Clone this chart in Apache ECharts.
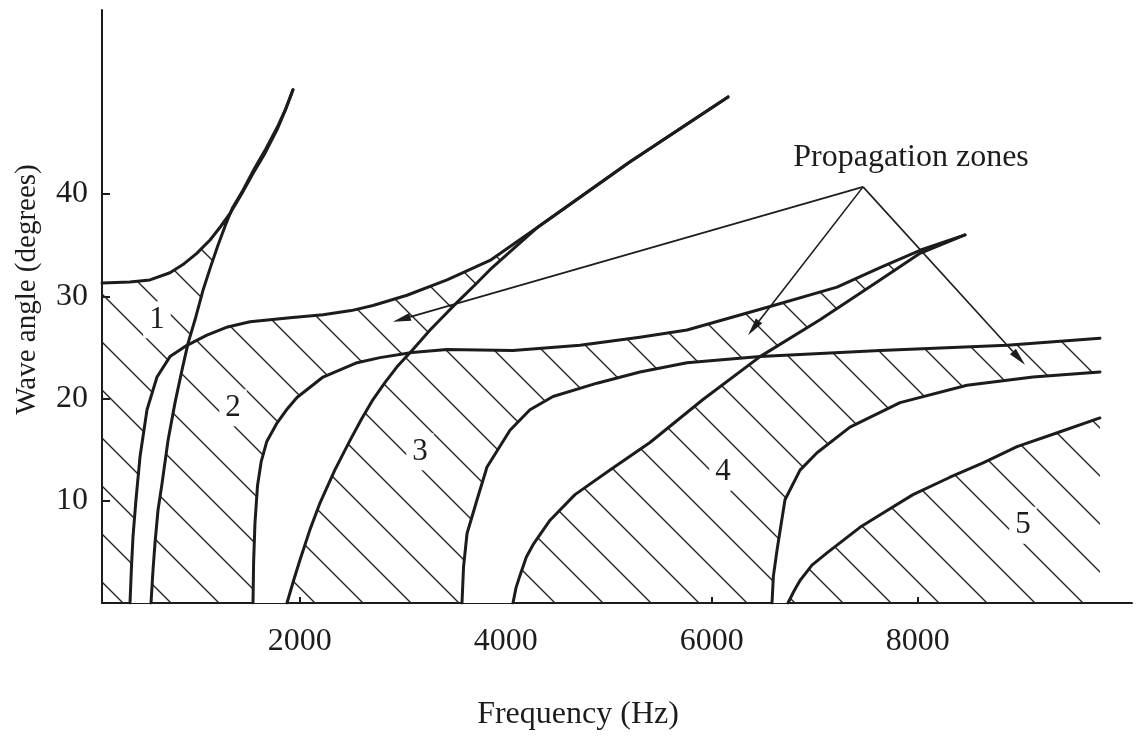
<!DOCTYPE html>
<html><head><meta charset="utf-8">
<script src="https://cdn.jsdelivr.net/npm/echarts@6/dist/echarts.min.js"></script>
<style>html,body{margin:0;padding:0;background:#fff}#c{width:1138px;height:740px}</style>
</head><body><div id="c"></div>
<script>
// ---- axis ticks ----
const xTicks = [2000, 4000, 6000, 8000];
const yTicks = [10, 20, 30, 40];

// ---- curves: [frequency Hz, wave angle deg] ----
const curveL0 = [[80,31.3],[350,31.4],[546,31.6],[740,32.3],[866,33.1],[1000,34.2],[1129,35.5],[1230,36.8],[1323,38.1],[1430,39.9],[1546,42.0],[1663,44.0],[1780,46.3],[1860,48.2],[1934,50.2]];
const curveS1 = [[556,0],[575,3.2],[595,5.9],[624,9.1],[663,11.7],[721,15.9],[789,19.6],[857,22.8],[915,25.4],[983,27.7],[1061,30.6],[1135,32.9],[1206,35.0],[1280,37.0],[1345,38.6],[1450,40.4],[1560,42.5],[1670,44.4],[1785,46.6],[1862,48.3],[1934,50.2]];
const curveL1 = [[352,0],[366,3.5],[381,6.5],[410,10.1],[449,14.3],[517,18.9],[614,22.1],[740,24.1],[905,25.2],[1099,26.2],[1300,27.0],[1517,27.5],[1905,27.9],[2226,28.2],[2500,28.6],[2711,29.1],[3041,30.1],[3430,31.6],[3847,33.5],[4303,36.7],[5200,43.1],[6158,49.5]];
const curveS2 = [[1876,0],[1940,2.2],[2002,4.2],[2100,7.2],[2197,9.8],[2340,13.0],[2488,15.9],[2600,18.0],[2711,19.9],[2830,21.6],[2944,23.1],[3090,24.7],[3265,26.7],[3400,28.1],[3527,29.4],[3700,31.1],[3847,32.6],[4070,34.6],[4303,36.7],[5200,43.1],[6158,49.5]];
const curveL2 = [[1546,0],[1552,4.0],[1565,7.8],[1590,11.5],[1625,13.8],[1680,15.8],[1779,17.6],[1880,19.0],[1973,20.1],[2226,22.1],[2556,23.5],[2779,24.0],[3090,24.5],[3430,24.8],[4070,24.7],[4721,25.2],[5303,26.0],[5760,26.7],[6566,29.0],[7216,30.9],[7634,32.8],[8022,34.5],[8459,36.0]];
const curveS3 = [[4070,0],[4100,1.5],[4138,2.7],[4200,4.5],[4265,5.7],[4430,8.1],[4672,10.6],[5012,13.0],[5400,15.7],[5915,19.9],[6469,24.1],[7051,27.7],[7634,31.6],[8022,34.2],[8459,36.0]];
const curveL3 = [[3575,0],[3590,3.5],[3624,6.8],[3721,10.1],[3818,13.3],[4041,16.9],[4235,18.9],[4459,20.2],[4886,21.5],[5303,22.6],[5760,23.5],[6469,24.1],[7634,24.7],[8867,25.2],[9769,25.9]];
const curveL4 = [[6585,0],[6598,2.6],[6634,5.2],[6711,10.1],[6857,13.0],[7022,14.7],[7342,17.2],[7828,19.6],[8478,21.3],[9119,22.1],[9769,22.6]];
const curveS4 = [[6740,0],[6800,1.2],[6857,2.2],[6973,3.7],[7119,4.9],[7439,7.4],[7663,8.8],[7954,10.6],[8313,12.3],[8634,13.7],[8964,15.3],[9369,16.7],[9769,18.1]];

// ---- annotations ----
const zoneLabels = ['1', '2', '3', '4', '5'];
const zoneLabelPos = [[614,27.7],[1352,19.1],[3168,14.8],[6109,12.8],[9022,7.6]];
const annotationText = 'Propagation zones';
const annotationPos = [7935, 43.6];
const arrowApex = [7469, 40.7];
const arrowTips = [[2905,27.5],[6352,26.2],[9041,23.3]];

// ---- geometry helpers (data space) ----
function segX(a,b,c,d){
  const r=[b[0]-a[0],b[1]-a[1]], s=[d[0]-c[0],d[1]-c[1]];
  const den=r[0]*s[1]-r[1]*s[0];
  if(Math.abs(den)<1e-12) return null;
  const q=[c[0]-a[0],c[1]-a[1]];
  const t=(q[0]*s[1]-q[1]*s[0])/den, u=(q[0]*r[1]-q[1]*r[0])/den;
  const e=1e-9;
  if(t<-e||t>1+e||u<-e||u>1+e) return null;
  return {t,u,pt:[a[0]+t*r[0],a[1]+t*r[1]]};
}
function firstCross(P,Q,start){
  for(let i=start||0;i<P.length-1;i++){
    let best=null;
    for(let j=0;j<Q.length-1;j++){
      const r=segX(P[i],P[i+1],Q[j],Q[j+1]);
      if(r&&(!best||r.t<best.t)) best={i,j,t:r.t,pt:r.pt};
    }
    if(best) return best;
  }
  return null;
}
// region: right of left curve S, below top curve L, left of right curve R
function zonePoly(S,L,R){
  const c1=firstCross(S,L), c2=firstCross(L,R,c1.j);
  return S.slice(0,c1.i+1).concat([c1.pt], L.slice(c1.j+1,c2.i+1), [c2.pt], R.slice(0,c2.j+1).reverse());
}
// strip between L (left) and S (right) below their crossing
function stripPoly(L,S){
  const c=firstCross(L,S);
  return L.slice(0,c.i+1).concat([c.pt], S.slice(0,c.j+1).reverse());
}
const cAB=firstCross(curveL0,curveS1);
const zone1=[[curveL0[0][0],0]].concat(curveL0.slice(0,cAB.i+1),[cAB.pt],curveS1.slice(0,cAB.j+1).reverse());
const zone2=zonePoly(curveS1,curveL1,curveS2);
const zone3=zonePoly(curveS2,curveL2,curveS3);
const c34=firstCross(curveS3,curveL3);
const zone45=curveS3.slice(0,c34.i+1).concat([c34.pt],curveL3.slice(c34.j+1),[[curveL3[curveL3.length-1][0],0]]);
const hatchPolys=[zone1,zone2,zone3,zone45];
const whitePolys=[stripPoly(curveL1,curveS1),stripPoly(curveL2,curveS2),stripPoly(curveL3,curveS3),curveL4.concat(curveS4.slice().reverse())];

function makeHatch(){
  const s=48,c=document.createElement('canvas');c.width=s;c.height=s;
  const g=c.getContext('2d');g.strokeStyle='#262626';g.lineWidth=1.4;
  for(let m=-1;m<=1;m++){g.beginPath();g.moveTo(m*s-4,-4);g.lineTo(m*s+s+4,s+4);g.stroke();}
  return c;
}
const hatch={image:makeHatch(),repeat:'repeat'};
const INK='#1c1c1c';
const SERIF='"Liberation Serif","DejaVu Serif",serif';

function polySeries(polys,fill,z){
  return {type:'custom',z:z,silent:true,clip:true,
    data:polys.map(p=>p[0]),
    renderItem:function(params,api){
      const pts=polys[params.dataIndex].map(p=>api.coord(p));
      return {type:'polygon',shape:{points:pts},style:{fill:fill,stroke:null}};
    }};
}
const curves=[curveL0,curveS1,curveL1,curveS2,curveL2,curveS3,curveL3,curveL4,curveS4];
const series=[polySeries(hatchPolys,hatch,1),polySeries(whitePolys,'#fff',2)];
curves.forEach(c=>series.push({type:'line',data:c,showSymbol:false,z:5,silent:true,
  lineStyle:{color:INK,width:3,join:'round',cap:'round'}}));
// arrows
series.push({type:'custom',z:6,silent:true,data:arrowTips,
  renderItem:function(params,api){
    const s=api.coord(arrowApex), t=api.coord(arrowTips[params.dataIndex]);
    const dx=t[0]-s[0],dy=t[1]-s[1],L=Math.hypot(dx,dy),ux=dx/L,uy=dy/L;
    const bx=t[0]-18*ux,by=t[1]-18*uy,nx=-uy,ny=ux;
    return {type:'group',children:[
      {type:'line',shape:{x1:s[0],y1:s[1],x2:bx,y2:by},style:{stroke:INK,lineWidth:1.6}},
      {type:'polygon',shape:{points:[t,[bx+4*nx,by+4*ny],[bx-4*nx,by-4*ny]]},style:{fill:INK}}
    ]};
  }});
// zone numbers
series.push({type:'custom',z:7,silent:true,data:zoneLabelPos,
  renderItem:function(params,api){
    const p=api.coord(zoneLabelPos[params.dataIndex]);
    return {type:'text',x:p[0],y:p[1],style:{text:zoneLabels[params.dataIndex],fill:INK,
      font:'31px '+SERIF,align:'center',verticalAlign:'middle',backgroundColor:'#fff',padding:[3,6]}};
  }});
series.push({type:'custom',z:7,silent:true,data:[annotationPos],
  renderItem:function(params,api){
    const p=api.coord(annotationPos);
    return {type:'text',x:p[0],y:p[1],style:{text:annotationText,fill:INK,
      font:'32px '+SERIF,align:'center',verticalAlign:'middle'}};
  }});

const chart=echarts.init(document.getElementById('c'),null,{renderer:'canvas'});
chart.setOption({
  animation:false,backgroundColor:'#fff',
  grid:{left:102,right:6,top:10,bottom:137,containLabel:false,outerBoundsMode:'none'},
  xAxis:{type:'value',min:80,max:10080,
    name:'Frequency (Hz)',nameLocation:'middle',nameGap:96,
    nameTextStyle:{fontFamily:SERIF,fontSize:32,color:INK,padding:[0,78,0,0]},
    axisLine:{lineStyle:{color:INK,width:2}},
    axisTick:{inside:true,length:6,customValues:xTicks,lineStyle:{color:INK,width:2}},
    axisLabel:{customValues:xTicks,formatter:v=>String(v),fontFamily:SERIF,fontSize:32,color:INK,margin:23},
    splitLine:{show:false}},
  yAxis:{type:'value',min:0,max:58,
    name:'Wave angle (degrees)',nameLocation:'middle',nameGap:60,
    nameTextStyle:{fontFamily:SERIF,fontSize:29,color:INK,padding:[0,0,0,34]},
    axisLine:{lineStyle:{color:INK,width:2}},
    axisTick:{inside:true,length:8,customValues:yTicks,lineStyle:{color:INK,width:2}},
    axisLabel:{customValues:yTicks,formatter:v=>String(v),fontFamily:SERIF,fontSize:32,color:INK,margin:14},
    splitLine:{show:false}},
  series:series
});
</script></body></html>
